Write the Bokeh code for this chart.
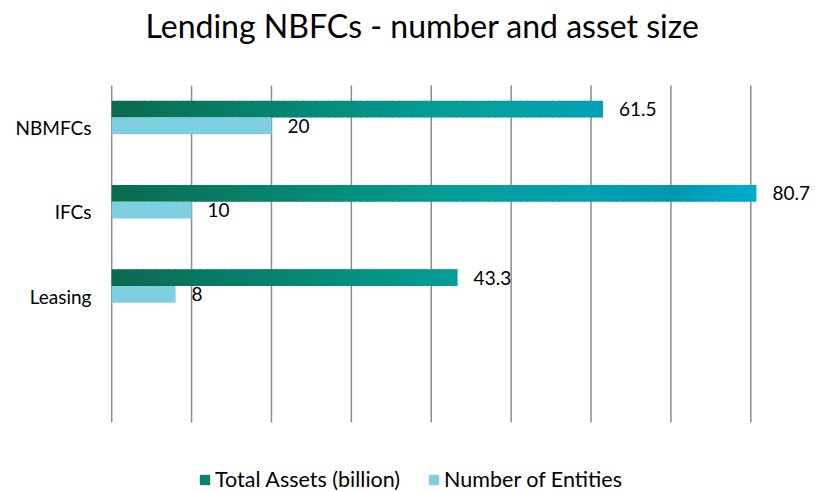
import numpy as np
from bokeh.plotting import figure
from bokeh.models import (ColumnDataSource, Range1d, FixedTicker, Legend,
                          LegendItem, Label)
from bokeh.embed import file_html
from bokeh.resources import INLINE
from bokeh.core.properties import value

# ---- data ----
categories = ["NBMFCs", "IFCs", "Leasing"]
total_assets = [61.5, 80.7, 43.3]
num_entities = [20, 10, 8]
x_ticks = [0, 10, 20, 30, 40, 50, 60, 70, 80]
title_text = "Lending NBFCs - number and asset size"
series_names = ["Total Assets (billion)", "Number of Entities"]

# category band centres (4 bands, the bottom one empty)
cat_pos = [3.5, 2.5, 1.5]
band_lo, band_hi = 0, 4

FONT = "Lato"
LIGHT = "#7ecfe0"
GRID = "#8c8c8c"

# gradient stops for the "Total Assets" bars (x value, colour)
stops = [(0, "#0a6a4e"), (30, "#04907f"), (43, "#059e98"), (60, "#03a1b2"),
         (70, "#0098ae"), (81, "#00acd0")]


def _rgb(h):
    return np.array([int(h[i:i + 2], 16) for i in (1, 3, 5)], dtype=float)


def grad(x):
    xs = [s[0] for s in stops]
    cs = np.array([_rgb(s[1]) for s in stops])
    c = [np.interp(x, xs, cs[:, k]) for k in range(3)]
    return "#%02x%02x%02x" % tuple(int(round(v)) for v in c)


p = figure(width=815, height=492, output_backend="svg", toolbar_location=None,
           title=None,
           x_range=Range1d(-0.15, 88.1), y_range=Range1d(-0.831, 5.009),
           min_border_left=110, min_border_right=0, min_border_top=0,
           min_border_bottom=0)

# chart title (inside the full-height frame, above the bands)
p.add_layout(Label(x=312, y=467, x_units="screen", y_units="screen",
                   text=title_text, text_align="center", text_baseline="middle",
                   text_font=FONT, text_font_size="32px", text_color="#000000"))

# vertical gridlines (only across the category bands)
p.segment(x0=x_ticks, x1=x_ticks, y0=band_lo, y1=band_hi,
          line_color=GRID, line_width=1.5)

# gradient bars built from slices
sl = dict(y=[], left=[], right=[], color=[])
for pos, v in zip(cat_pos, total_assets):
    n = int(np.ceil(v / 0.8))
    edges = np.linspace(0, v, n + 1)
    for a, b in zip(edges[:-1], edges[1:]):
        sl["y"].append(pos + 0.22)
        sl["left"].append(a)
        sl["right"].append(min(b + 0.15, v))
        sl["color"].append(grad((a + b) / 2))
src_a = ColumnDataSource(sl)
r_a = p.hbar(y="y", left="left", right="right", height=0.2,
             fill_color="color", line_color=None, source=src_a)

src_n = ColumnDataSource(dict(y=[c + 0.02 for c in cat_pos], val=num_entities))
r_n = p.hbar(y="y", left=0, right="val", height=0.2,
             fill_color=LIGHT, line_color=None, source=src_n)

# value labels
lab_a = ColumnDataSource(dict(y=[c + 0.22 for c in cat_pos], val=total_assets,
                              txt=[str(v) for v in total_assets]))
lab_n = ColumnDataSource(dict(y=[c + 0.02 for c in cat_pos], val=num_entities,
                              txt=[str(v) for v in num_entities]))
for src in (lab_a, lab_n):
    p.text(x="val", y="y", text="txt", source=src,
           x_offset=16, text_baseline="middle", text_align="left",
           text_font=value(FONT), text_font_size="19px", text_color="#000000")

# axes / grid
p.xaxis.visible = False
p.xgrid.grid_line_color = None
p.ygrid.grid_line_color = None
p.yaxis.ticker = FixedTicker(ticks=cat_pos)
p.yaxis.major_label_overrides = {pos: c for pos, c in zip(cat_pos, categories)}
p.yaxis.axis_line_color = None
p.yaxis.major_tick_line_color = None
p.yaxis.minor_tick_line_color = None
p.yaxis.major_tick_out = 0
p.yaxis.major_tick_in = 0
p.yaxis.major_label_standoff = 19
p.yaxis.major_label_text_font = FONT
p.yaxis.major_label_text_font_size = "19px"
p.yaxis.major_label_text_color = "#000000"
p.outline_line_color = None
p.background_fill_color = "white"

k = int(np.argmin([abs(l - 20) for l in sl["left"]]))
legend = Legend(items=[LegendItem(label=series_names[0], renderers=[r_a], index=k),
                       LegendItem(label=series_names[1], renderers=[r_n])],
                orientation="horizontal", location=(88, 0),
                glyph_width=13, glyph_height=13, label_standoff=4, spacing=27,
                padding=0, margin=0, border_line_color=None,
                background_fill_alpha=0, label_text_font=FONT,
                label_text_font_size="21.5px", label_text_color="#000000")
p.add_layout(legend)

open("out.html", "w").write(file_html(p, INLINE))
